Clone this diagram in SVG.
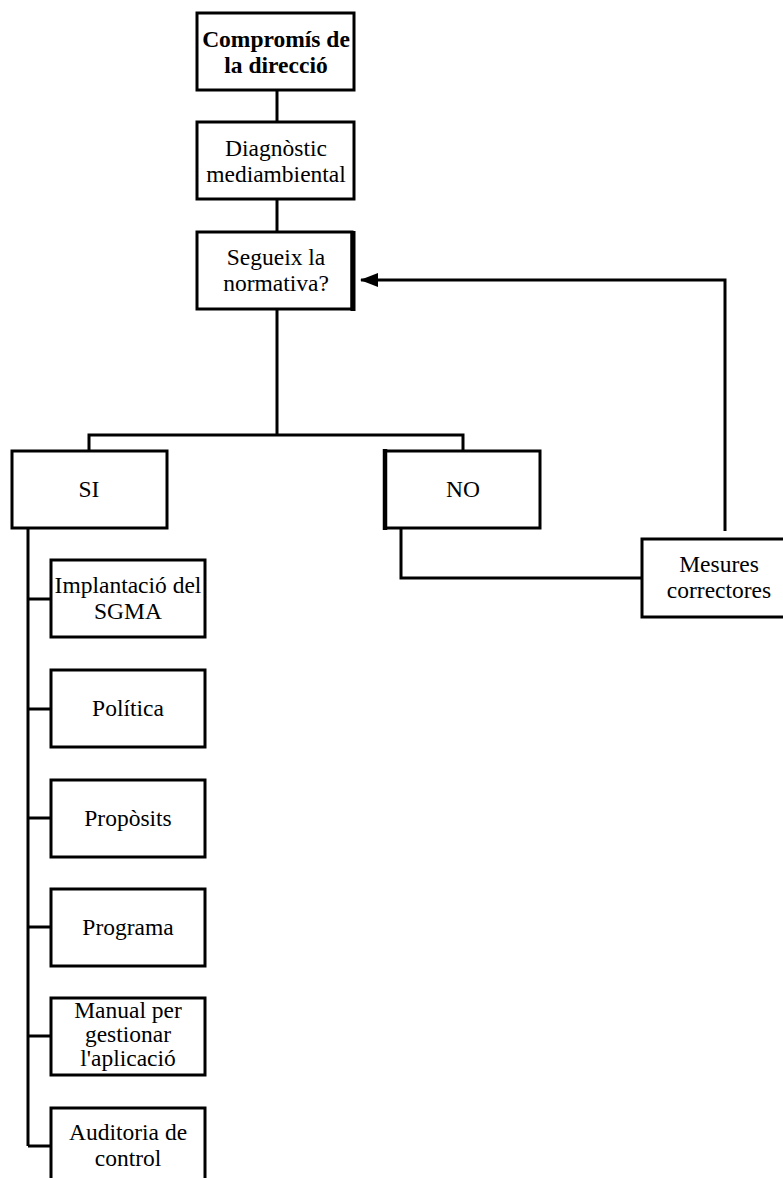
<svg xmlns="http://www.w3.org/2000/svg" width="783" height="1178" viewBox="0 0 783 1178">
<style>
.box{fill:#fff;stroke:#000;stroke-width:3}
.ln{fill:none;stroke:#000;stroke-width:3}
text{font-family:"Liberation Serif","Times New Roman",serif;font-size:23.5px;fill:#000;text-anchor:middle}
.b{font-weight:bold}
</style>
<defs>
<marker id="ah" markerWidth="18" markerHeight="14" refX="17" refY="7" orient="auto" markerUnits="userSpaceOnUse">
<path d="M0,0 L18,7 L0,14 Z" fill="#000"/>
</marker>
</defs>
<rect width="783" height="1178" fill="#fff"/>
<g id="connectors">
<line class="ln" x1="277" y1="90" x2="277" y2="122"/>
<line class="ln" x1="277" y1="199" x2="277" y2="232"/>
<path class="ln" d="M277,309 V435 M89,451 V435 H463 V451"/>
<path class="ln" d="M401,528 V578 H642"/>
<path class="ln" d="M725,531 V280 H361" marker-end="url(#ah)"/>
<path class="ln" d="M28,528 V1146"/>
<path class="ln" d="M28,599 H51 M28,709 H51 M28,818 H51 M28,927 H51 M28,1036 H51 M28,1146 H51"/>
</g>
<g id="n1"><rect class="box" x="197" y="13" width="157" height="77"/>
<text class="b" x="276" y="47">Compromís de</text><text class="b" x="276" y="73">la direcció</text></g>
<g id="n2"><rect class="box" x="197" y="122" width="157" height="77"/>
<text x="276" y="156">Diagnòstic</text><text x="276" y="182">mediambiental</text></g>
<g id="n3"><rect class="box" x="197" y="232" width="155" height="77"/>
<line x1="353" y1="231" x2="353" y2="311" stroke="#000" stroke-width="5"/>
<text x="276" y="265">Segueix la</text><text x="276" y="291">normativa?</text></g>
<g id="si"><rect class="box" x="12" y="451" width="155" height="77"/>
<text x="89" y="497">SI</text></g>
<g id="no"><rect class="box" x="385" y="451" width="155" height="77"/>
<line x1="385" y1="449" x2="385" y2="530" stroke="#000" stroke-width="4.5"/>
<text x="463" y="497">NO</text></g>
<g id="mesures"><rect class="box" x="642" y="539" width="143" height="78"/>
<text x="719" y="572">Mesures</text><text x="719" y="598">correctores</text></g>
<g id="c1"><rect class="box" x="51" y="560" width="154" height="77"/>
<text x="128" y="593">Implantació del</text><text x="128" y="619">SGMA</text></g>
<g id="c2"><rect class="box" x="51" y="670" width="154" height="77"/>
<text x="128" y="716">Política</text></g>
<g id="c3"><rect class="box" x="51" y="780" width="154" height="77"/>
<text x="128" y="826">Propòsits</text></g>
<g id="c4"><rect class="box" x="51" y="889" width="154" height="77"/>
<text x="128" y="935">Programa</text></g>
<g id="c5"><rect class="box" x="51" y="998" width="154" height="77"/>
<text x="128" y="1018">Manual per</text><text x="128" y="1042">gestionar</text><text x="128" y="1066">l'aplicació</text></g>
<g id="c6"><rect class="box" x="51" y="1108" width="154" height="80"/>
<text x="128" y="1140">Auditoria de</text><text x="128" y="1166">control</text></g>
</svg>
